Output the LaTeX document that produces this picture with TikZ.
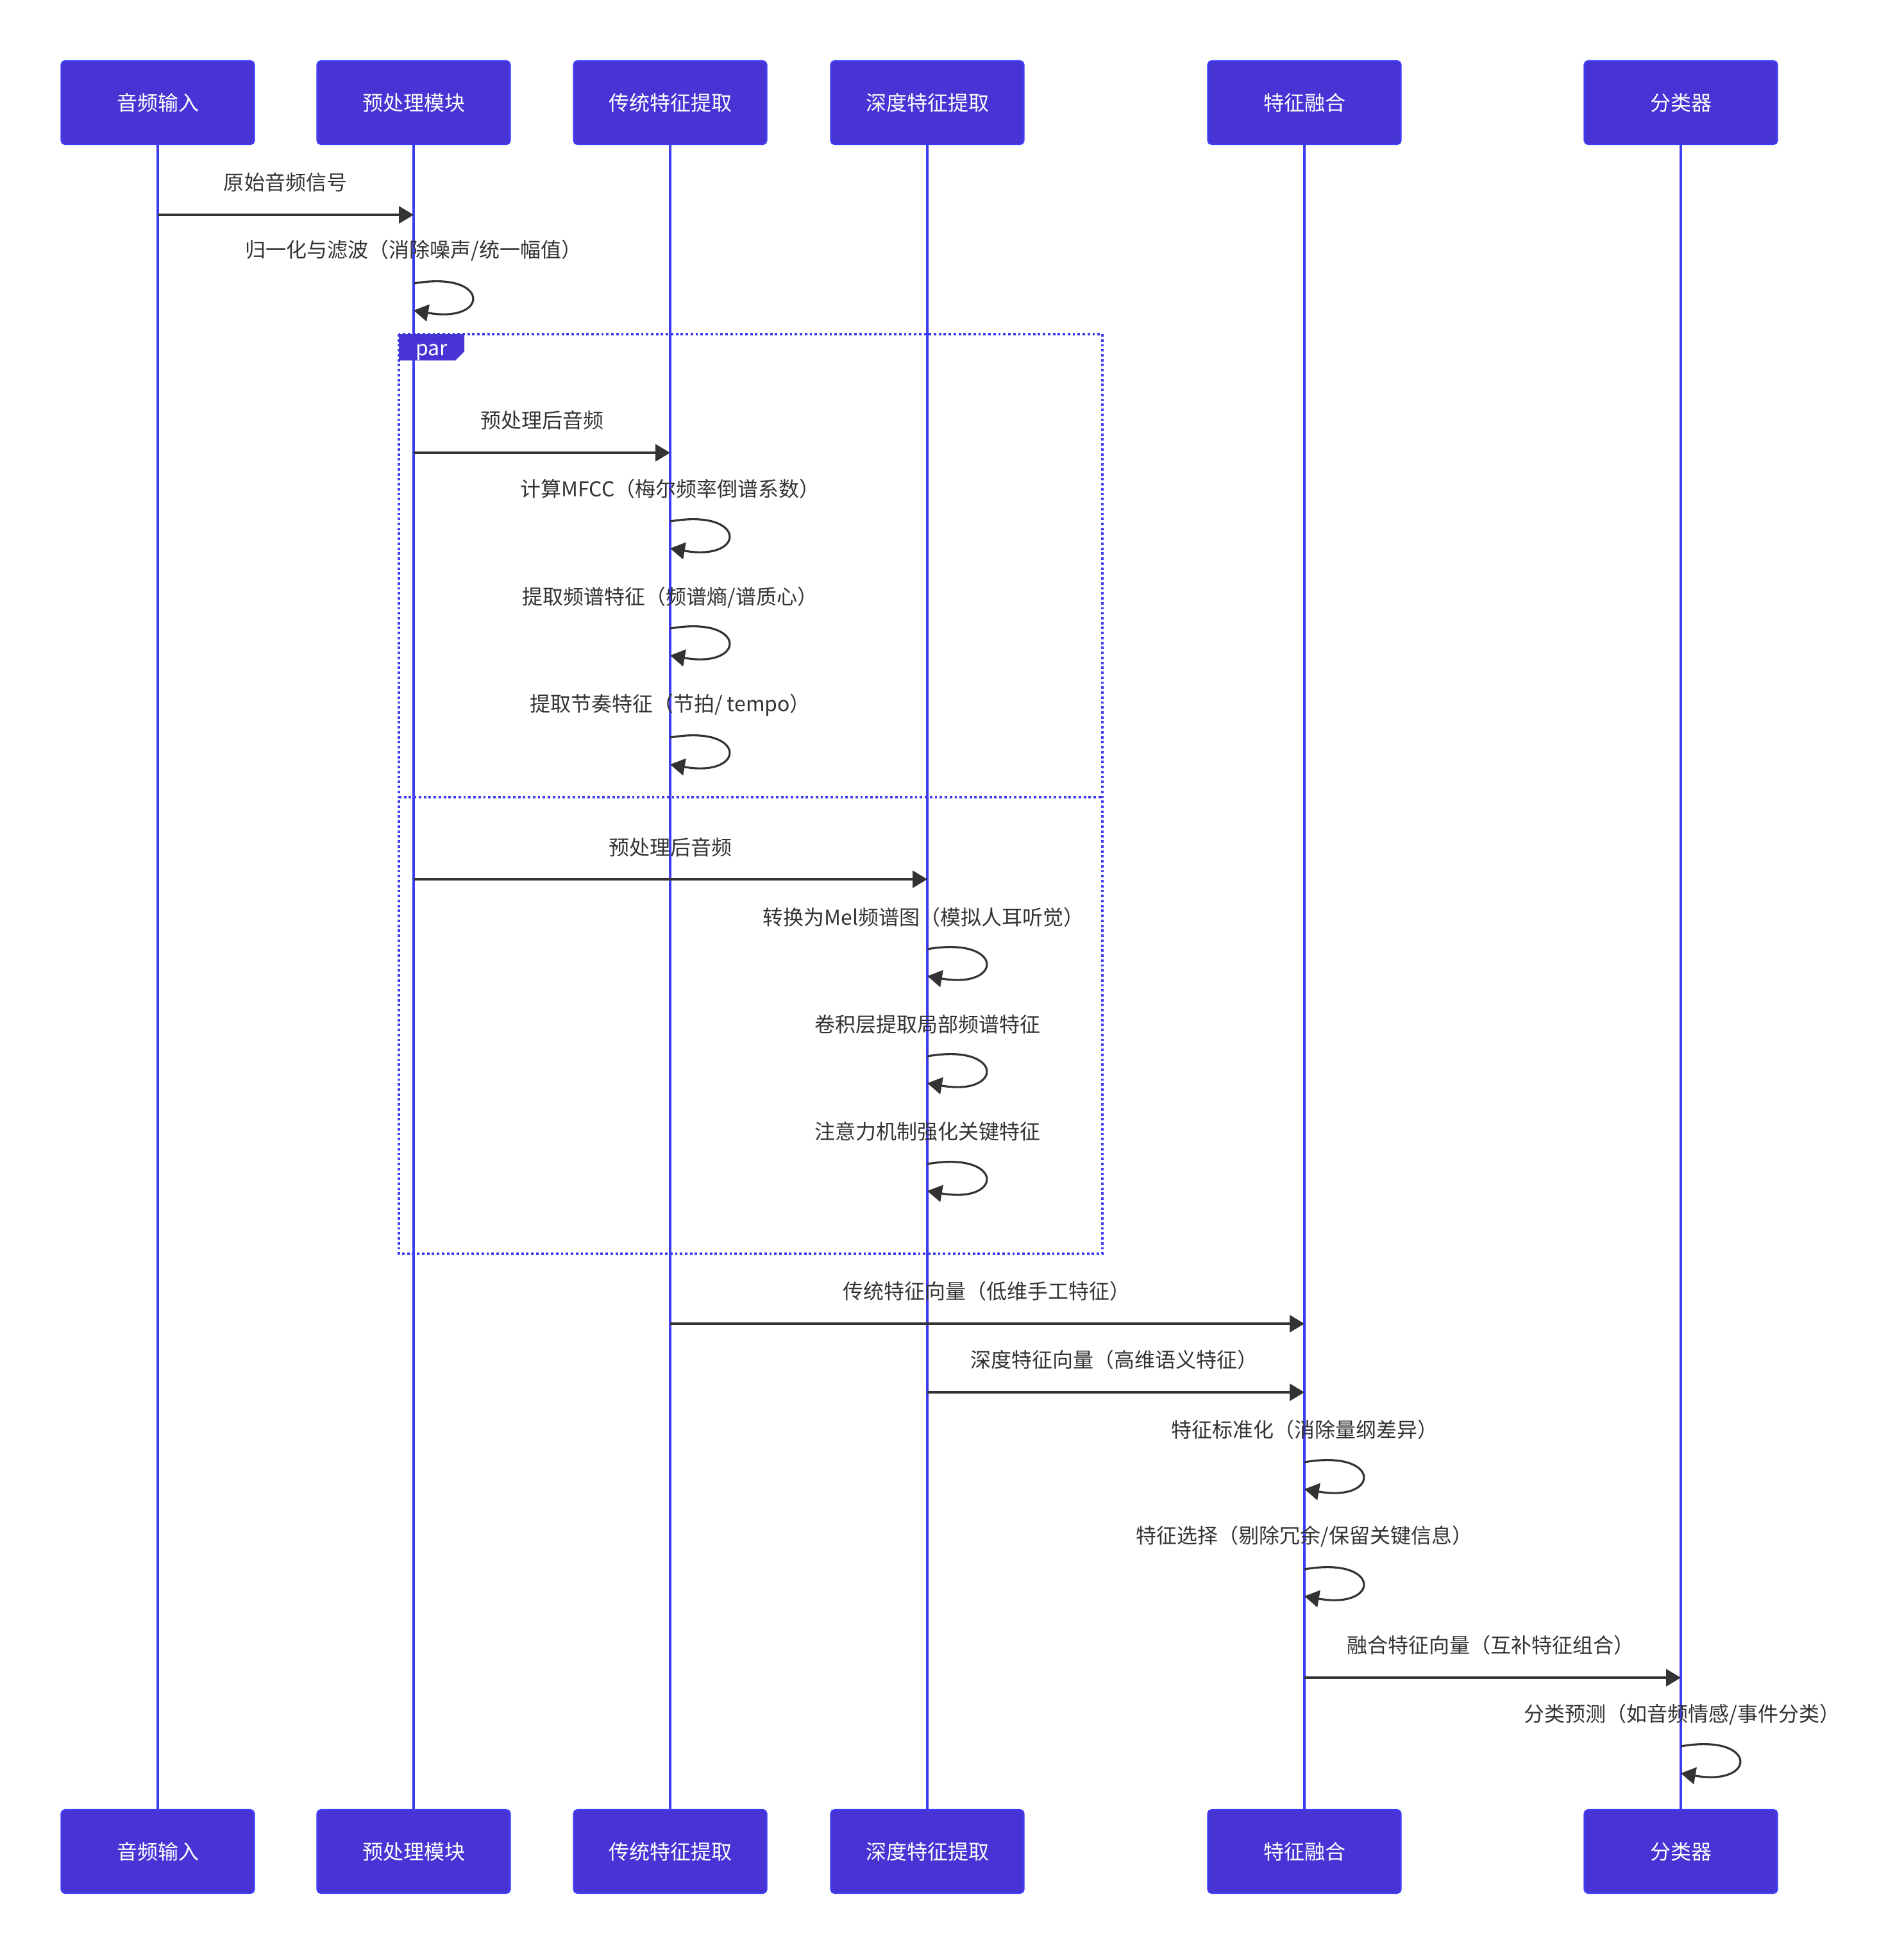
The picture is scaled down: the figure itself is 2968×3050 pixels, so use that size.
\documentclass[tikz,border=0pt]{standalone}
\usepackage{fontspec}
\setmainfont{Noto Sans CJK SC}
\usetikzlibrary{arrows.meta}
\definecolor{boxfill}{RGB}{72,52,212}
\definecolor{boxline}{RGB}{62,62,250}
\definecolor{lifec}{RGB}{60,60,240}
\definecolor{txt}{RGB}{51,51,51}
\tikzset{
  actor/.style={draw=boxline, line width=0.6pt, fill=boxfill, rounded corners=1.6pt,
    minimum width=301*0.01cm, minimum height=130*0.01cm, inner sep=0pt,
    text=white, font=\fontsize{9.1pt}{11pt}\selectfont},
  life/.style={draw=lifec, line width=1.1pt},
  msg/.style={draw=txt, line width=1.1pt, -{Triangle[length=6.5pt,width=7.5pt]}},
  loopmsg/.style={draw=txt, line width=0.9pt, -{Triangle[length=6.5pt,width=7.5pt]}},
  lbl/.style={text=txt, font=\fontsize{9.1pt}{11pt}\selectfont, inner sep=0pt},
  parline/.style={draw=lifec, line width=1.1pt, dash pattern=on 1.1pt off 1.1pt},
}
\begin{document}
\begin{tikzpicture}[x=0.01cm,y=-0.01cm]
\useasboundingbox (0,0) rectangle (2968,3050);
% actors top
\node[actor] (At) at (246,160) {音频输入};
\node[actor] (Bt) at (645,160) {预处理模块};
\node[actor] (Ct) at (1045,160) {传统特征提取};
\node[actor] (Dt) at (1446,160) {深度特征提取};
\node[actor] (Et) at (2034,160) {特征融合};
\node[actor] (Ft) at (2621,160) {分类器};
% actors bottom
\node[actor] (Ab) at (246,2887) {音频输入};
\node[actor] (Bb) at (645,2887) {预处理模块};
\node[actor] (Cb) at (1045,2887) {传统特征提取};
\node[actor] (Db) at (1446,2887) {深度特征提取};
\node[actor] (Eb) at (2034,2887) {特征融合};
\node[actor] (Fb) at (2621,2887) {分类器};
% lifelines
\foreach \t/\b in {At/Ab,Bt/Bb,Ct/Cb,Dt/Db,Et/Eb,Ft/Fb}
  \draw[life] (\t.south) -- (\b.north);
% par frame
\draw[parline] (622,521) rectangle (1719,1955);
\draw[parline] (622,1243) -- (1719,1243);
\fill[boxfill] (622,521) -- (724,521) -- (724,548) -- (710,562) -- (622,562) -- cycle;
\node[text=white, font=\fontsize{9.1pt}{11pt}\selectfont, inner sep=0pt] (par) at (673,549) {par};
% messages
\node[lbl] (m1) at (445,284) {原始音频信号};
\draw[msg] (At |- 0,335) -- (Bt |- 0,335);
\node[lbl] (m2) at (645,391) {归一化与滤波（消除噪声/统一幅值）};
\draw[loopmsg] (Bt |- 0,442) .. controls +(120,-21) and +(120,21) .. (Bt |- 0,484);
\node[lbl] (m3) at (845,655) {预处理后音频};
\draw[msg] (Bt |- 0,706) -- (Ct |- 0,706);
\node[lbl] (m4) at (1045,762) {计算MFCC（梅尔频率倒谱系数）};
\draw[loopmsg] (Ct |- 0,813) .. controls +(120,-21) and +(120,21) .. (Ct |- 0,855);
\node[lbl] (m5) at (1045,932) {提取频谱特征（频谱熵/谱质心）};
\draw[loopmsg] (Ct |- 0,980) .. controls +(120,-21) and +(120,21) .. (Ct |- 0,1022);
\node[lbl] (m6) at (1045,1099) {提取节奏特征（节拍/ tempo）};
\draw[loopmsg] (Ct |- 0,1150) .. controls +(120,-21) and +(120,21) .. (Ct |- 0,1192);
\node[lbl] (m7) at (1045,1321) {预处理后音频};
\draw[msg] (Bt |- 0,1371) -- (Dt |- 0,1371);
\node[lbl] (m8) at (1440,1430) {转换为Mel频谱图（模拟人耳听觉）};
\draw[loopmsg] (Dt |- 0,1480) .. controls +(120,-21) and +(120,21) .. (Dt |- 0,1522);
\node[lbl] (m9) at (1446,1597) {卷积层提取局部频谱特征};
\draw[loopmsg] (Dt |- 0,1647) .. controls +(120,-21) and +(120,21) .. (Dt |- 0,1689);
\node[lbl] (m10) at (1446,1764) {注意力机制强化关键特征};
\draw[loopmsg] (Dt |- 0,1815) .. controls +(120,-21) and +(120,21) .. (Dt |- 0,1857);
\node[lbl] (m11) at (1538,2013) {传统特征向量（低维手工特征）};
\draw[msg] (Ct |- 0,2064) -- (Et |- 0,2064);
\node[lbl] (m12) at (1737,2120) {深度特征向量（高维语义特征）};
\draw[msg] (Dt |- 0,2171) -- (Et |- 0,2171);
\node[lbl] (m13) at (2034,2229) {特征标准化（消除量纲差异）};
\draw[loopmsg] (Et |- 0,2280) .. controls +(120,-21) and +(120,21) .. (Et |- 0,2322);
\node[lbl] (m14) at (2034,2396) {特征选择（剔除冗余/保留关键信息）};
\draw[loopmsg] (Et |- 0,2447) .. controls +(120,-21) and +(120,21) .. (Et |- 0,2489);
\node[lbl] (m15) at (2324,2565) {融合特征向量（互补特征组合）};
\draw[msg] (Et |- 0,2616) -- (Ft |- 0,2616);
\node[lbl] (m16) at (2623,2674) {分类预测（如音频情感/事件分类）};
\draw[loopmsg] (Ft |- 0,2723) .. controls +(120,-21) and +(120,21) .. (Ft |- 0,2765);
\end{tikzpicture}
\end{document}
